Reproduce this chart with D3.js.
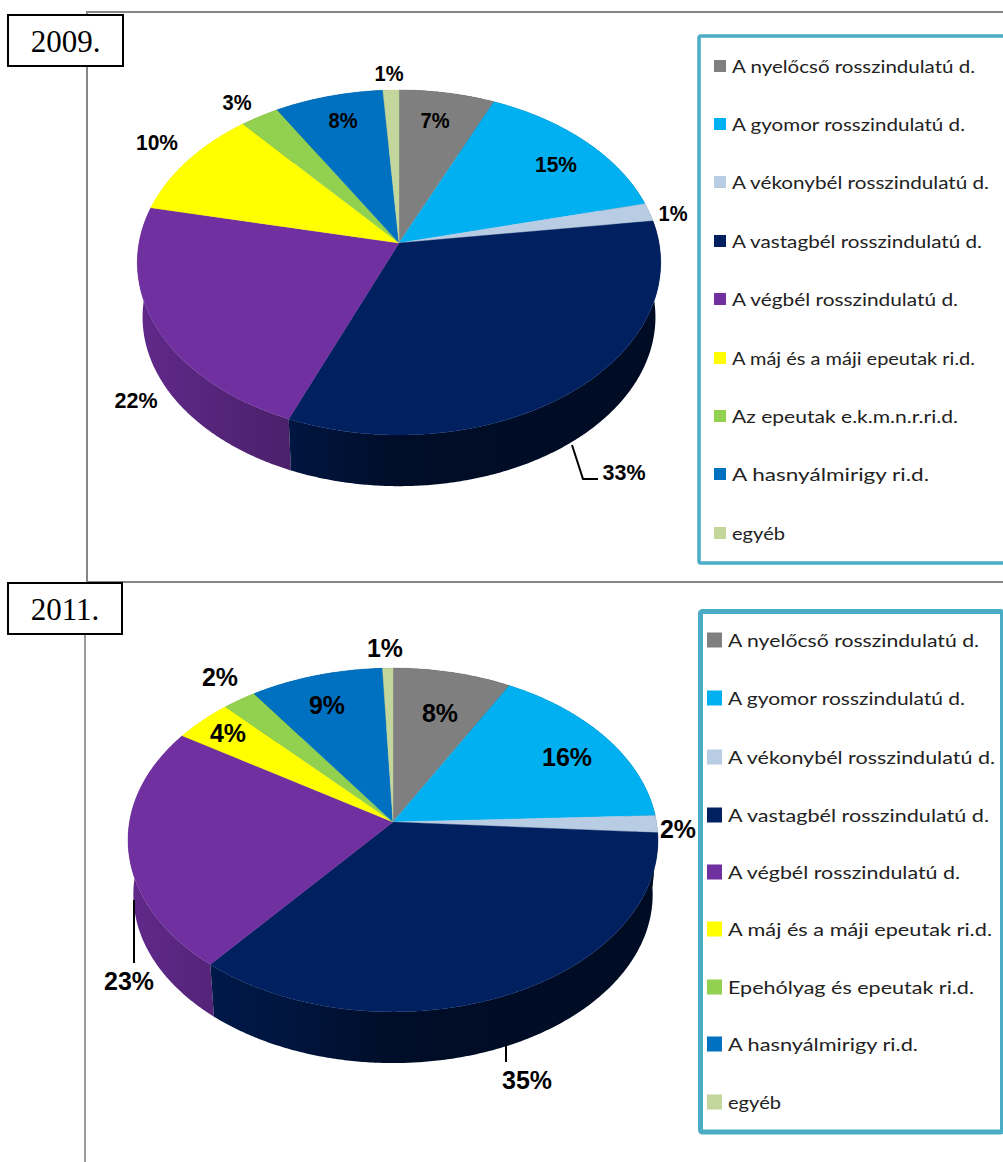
<!DOCTYPE html>
<html><head><meta charset="utf-8"><title>2009 / 2011</title>
<script src="https://cdn.jsdelivr.net/npm/d3@7/dist/d3.min.js"></script>
<style>html,body{margin:0;padding:0;background:#fff;overflow:hidden}svg{display:block}</style>
</head><body><svg id="c" width="1003" height="1162"></svg>
<script>
const colors = ["#7F7F7F","#00B0F0","#B8CCE4","#002060","#7030A0","#FFFF00","#92D050","#0070C0","#C3D69B"];
const categories2009 = ["A nyelőcső rosszindulatú d.","A gyomor rosszindulatú d.","A vékonybél rosszindulatú d.","A vastagbél rosszindulatú d.","A végbél rosszindulatú d.","A máj és a máji epeutak ri.d.","Az epeutak e.k.m.n.r.ri.d.","A hasnyálmirigy ri.d.","egyéb"];
const categories2011 = ["A nyelőcső rosszindulatú d.","A gyomor rosszindulatú d.","A vékonybél rosszindulatú d.","A vastagbél rosszindulatú d.","A végbél rosszindulatú d.","A máj és a máji epeutak ri.d.","Epehólyag és epeutak ri.d.","A hasnyálmirigy ri.d.","egyéb"];
const values2009 = [6.6,14.6,1.7,33.3,22.2,10.3,2.7,7.5,1.1];
const values2011 = [8,16.4,1.6,35,23,4,2.3,9,0.7];
const labels2009 = ["7%","15%","1%","33%","22%","10%","3%","8%","1%"];
const labels2011 = ["8%","16%","2%","35%","23%","4%","2%","9%","1%"];

// layout, kept apart from the data
const layout2009 = {
  id:"a", title:"2009.", box:[8,15,115,51], titleY:52,
  cx:399, cy:243, b:260, a:170.3, k:0.113, depth:55,
  spots:[[435,120],[556,164],[673,213],[624,472],[136,400],[157,142],[237,102],[343,120],[389,73]],
  labelW:[29,42,29,43,43,42,29,29,29], labelSize:22,
  leaders:[[[572,445],[583,479],[598,479]]],
  legend:{x:699,y:36,w:320,h:527,sw:3.5,sx:714,ss:12,tx:732,rows:[66,124,182,241,299,358,416,474,533],
          fs:18,tw:[243,233,257,250,226,243,226,197,53]}
};
const layout2011 = {
  id:"b", title:"2011.", box:[8,583,114,51], titleY:620,
  cx:393, cy:822, b:263.5, a:170, k:0.1047, depth:55,
  spots:[[440,713],[567,757],[678,829],[527,1080],[129,981],[228,733],[220,677],[327,705],[385,648]],
  labelW:[36,50,36,50,50,36,36,36,36], labelSize:25,
  leaders:[[[134,900],[134,963]],[[506,1046],[506,1062]]],
  legend:{x:700.5,y:611.5,w:302,h:520.5,sw:5,sx:707,ss:15,tx:728,rows:[640,698,757,815,872,929,987,1044,1102],
          fs:18,tw:[251,237,267,261,232,264,246,190,53]}
};

const svg = d3.select("#c");
svg.append("rect").attr("width",1003).attr("height",1162).attr("fill","#fff");
const defs = svg.append("defs");

// outer frames
const frameLine = d3.line();
svg.append("path").attr("d",frameLine([[1003,12],[87,12],[87,582],[1003,582]])).attr("fill","none").attr("stroke","#868686").attr("stroke-width",2);
svg.append("path").attr("d",frameLine([[85,582],[85,1162]])).attr("fill","none").attr("stroke","#9a9a9a").attr("stroke-width",2);

const shadeDomain = [-1,-0.4,0,1];
const shade = d3.scaleLinear().domain(shadeDomain).range([0.86,0.66,0.42,0.36]);
const offset = d3.scaleLinear().domain([-1,1]).range([0,1]);
const pie = d3.pie().sort(null).value(d=>d);

function drawPie(values, labels, categories, L){
  const g = svg.append("g");
  const P = th => {
    const x = Math.sin(th), y = -Math.cos(th), den = 1 - L.k*y;
    return [L.cx + L.b*x/den, L.cy + L.a*y/den];
  };
  const B = th => {
    const p = P(th);
    return [L.cx + (p[0]-L.cx)*0.98, L.cy + (p[1]-L.cy)*0.98 + L.depth];
  };
  const arcs = pie(values);
  const STEP = Math.PI/360;
  const sweep = d => {
    const n = Math.max(2,Math.ceil((d.endAngle-d.startAngle)/STEP));
    return d3.range(n+1).map(j=>d.startAngle+(d.endAngle-d.startAngle)*j/n);
  };
  // wall shading: one horizontal gradient per slice
  arcs.forEach((d,i)=>{
    const grad = defs.append("linearGradient").attr("id",`w${L.id}${i}`)
      .attr("gradientUnits","userSpaceOnUse")
      .attr("x1",L.cx-L.b).attr("x2",L.cx+L.b).attr("y1",0).attr("y2",0);
    shadeDomain.forEach(s=>{
      grad.append("stop").attr("offset",offset(s))
        .attr("stop-color",d3.interpolateRgb("#000",colors[i])(shade(s)));
    });
  });
  // walls, back to front
  const order = arcs.map((d,i)=>({d,i}))
    .sort((p,q)=>P((p.d.startAngle+p.d.endAngle)/2)[1]-P((q.d.startAngle+q.d.endAngle)/2)[1]);
  g.selectAll("path.wall").data(order).join("path").attr("class","wall")
    .attr("d",o=>{
      const ts = sweep(o.d);
      return d3.line()([...ts.map(P),...ts.slice().reverse().map(B)])+"Z";
    })
    .attr("fill",o=>`url(#w${L.id}${o.i})`);
  // top face
  g.selectAll("path.top").data(arcs).join("path").attr("class","top")
    .attr("d",d=>d3.line()([[L.cx,L.cy],...sweep(d).map(P)])+"Z")
    .attr("fill",(d,i)=>colors[i]).attr("stroke",(d,i)=>colors[i]).attr("stroke-width",0.4);
  // leaders
  g.selectAll("path.leader").data(L.leaders).join("path").attr("class","leader")
    .attr("d",d=>d3.line()(d)).attr("fill","none").attr("stroke","#000").attr("stroke-width",2);
  // labels
  g.selectAll("text.lab").data(labels).join("text").attr("class","lab")
    .attr("x",(d,i)=>L.spots[i][0]).attr("y",(d,i)=>L.spots[i][1])
    .attr("text-anchor","middle").attr("dominant-baseline","central")
    .attr("font-family","'Liberation Sans',Arial,sans-serif").attr("font-weight","bold")
    .attr("font-size",L.labelSize).attr("fill","#000")
    .attr("textLength",(d,i)=>L.labelW[i]).attr("lengthAdjust","spacingAndGlyphs")
    .text(d=>d);

  // legend
  const lg = L.legend;
  const gl = svg.append("g");
  gl.append("rect").attr("x",lg.x).attr("y",lg.y).attr("width",lg.w).attr("height",lg.h).attr("rx",2)
    .attr("fill","#fff").attr("stroke","#4BACC6").attr("stroke-width",lg.sw);
  gl.selectAll("rect.sw").data(categories).join("rect").attr("class","sw")
    .attr("x",lg.sx).attr("y",(d,i)=>lg.rows[i]-lg.ss/2).attr("width",lg.ss).attr("height",lg.ss)
    .attr("fill",(d,i)=>colors[i]);
  gl.selectAll("text.lt").data(categories).join("text").attr("class","lt")
    .attr("x",lg.tx).attr("y",(d,i)=>lg.rows[i]).attr("dominant-baseline","central")
    .attr("font-family","Lato,'Open Sans',sans-serif").attr("font-size",lg.fs).attr("fill","#222")
    .attr("textLength",(d,i)=>lg.tw[i]).attr("lengthAdjust","spacingAndGlyphs")
    .text(d=>d);

  // year box
  svg.append("rect").attr("x",L.box[0]).attr("y",L.box[1]).attr("width",L.box[2]).attr("height",L.box[3])
    .attr("fill","#fff").attr("stroke","#000").attr("stroke-width",2);
  svg.append("text").attr("x",L.box[0]+L.box[2]/2).attr("y",L.titleY).attr("text-anchor","middle")
    .attr("font-family","'Liberation Serif','Times New Roman',serif").attr("font-size",31).attr("fill","#000")
    .text(L.title);
}
drawPie(values2009,labels2009,categories2009,layout2009);
drawPie(values2011,labels2011,categories2011,layout2011);
</script></body></html>
